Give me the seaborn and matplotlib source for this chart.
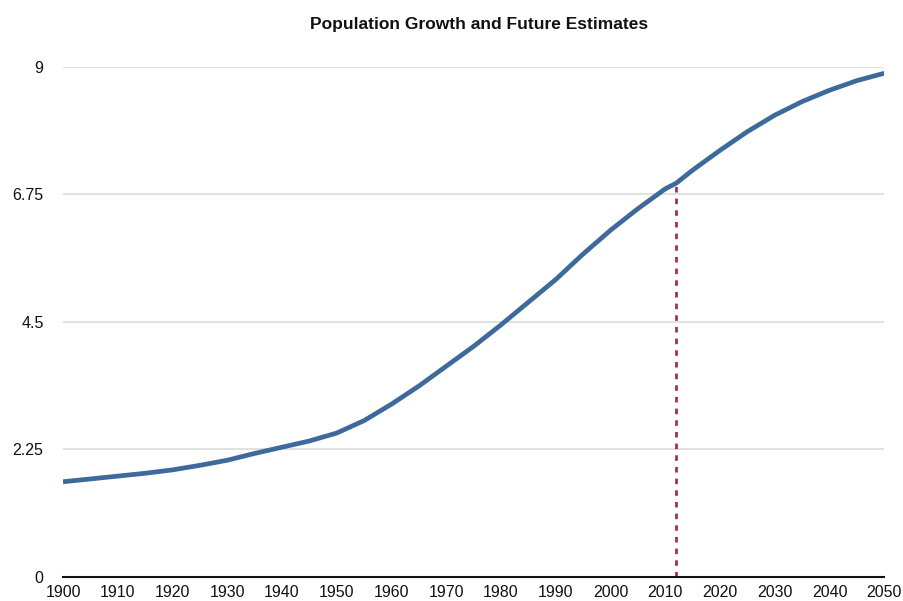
import pandas as pd
import matplotlib.pyplot as plt
import seaborn as sns

# Population (billions)
years = [1900, 1905, 1910, 1915, 1920, 1925, 1930, 1935, 1940, 1945, 1950,
         1955, 1960, 1965, 1970, 1975, 1980, 1985, 1990, 1995, 2000, 2005,
         2010, 2012, 2015, 2020, 2025, 2030, 2035, 2040, 2045, 2050]
population = [1.68, 1.73, 1.78, 1.83, 1.89, 1.97, 2.06, 2.18, 2.29, 2.40, 2.54,
              2.76, 3.05, 3.37, 3.72, 4.07, 4.45, 4.85, 5.25, 5.70, 6.12, 6.50,
              6.85, 6.95, 7.18, 7.53, 7.86, 8.15, 8.39, 8.59, 8.76, 8.89]
marker_year = 2012
marker_value = 6.95

x_ticks = list(range(1900, 2051, 10))
y_ticks = [0, 2.25, 4.5, 6.75, 9]
y_labels = ['0', '2.25', '4.5', '6.75', '9']

df = pd.DataFrame({'Year': years, 'Population': population})

sns.set_style('white')
plt.rcParams['font.family'] = ['Liberation Sans', 'DejaVu Sans']

fig = plt.figure(figsize=(9.04, 6.01), dpi=100)
ax = fig.add_axes([0.0697, 0.04, 0.9085, 0.8485])

# light horizontal gridlines
for v in y_ticks[1:]:
    ax.axhline(v, color='#dcdcdc', linewidth=1.2, zorder=0)

# current-year marker
ax.vlines(marker_year, 0, marker_value, colors='#a5324a', linestyles=(0, (2, 2.2)),
          linewidth=2, zorder=2)

sns.lineplot(data=df, x='Year', y='Population', color='#3d6a9a', linewidth=3.4,
             ax=ax, zorder=3, solid_capstyle='butt')

ax.set_xlim(1900, 2050)
ax.set_ylim(0, 9)
ax.set_xticks(x_ticks)
ax.set_yticks(y_ticks)
ax.set_yticklabels(y_labels)
ax.tick_params(axis='both', length=0, labelsize=11.5, colors='#111111')
ax.tick_params(axis='y', pad=14)
ax.tick_params(axis='x', pad=6)
ax.set_xlabel('')
ax.set_ylabel('')

for side in ['top', 'right', 'left']:
    ax.spines[side].set_visible(False)
ax.spines['bottom'].set_color('#111111')
ax.spines['bottom'].set_linewidth(1.5)

fig.suptitle('Population Growth and Future Estimates', x=0.5295, y=0.972,
             fontsize=12.5, fontweight='bold', color='#111111')

fig.savefig('out.png', dpi=100)
